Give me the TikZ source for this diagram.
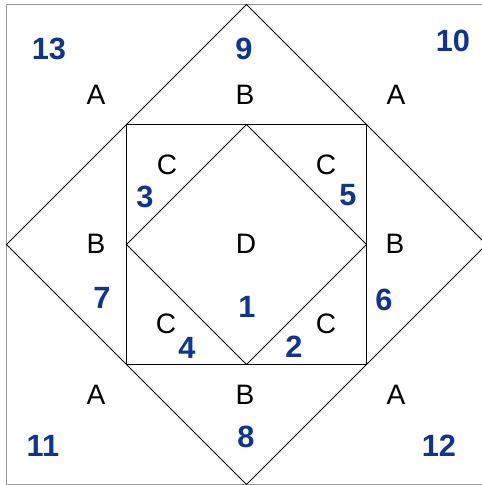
\documentclass[tikz,border=0pt]{standalone}
\usepackage{fontspec}
\setmainfont{Liberation Sans}
\definecolor{numblue}{RGB}{16,52,150}
\definecolor{framegray}{RGB}{150,150,150}
\tikzset{
  lbl/.style={font=\fontsize{16}{18}\selectfont, text=black, inner sep=0pt},
  num/.style={font=\fontsize{17.5}{20}\selectfont\bfseries, text=numblue, inner sep=0pt},
  thin line/.style={draw=black, line width=0.5pt},
  frame/.style={draw=framegray, line width=1.1pt}
}
\begin{document}
\begin{tikzpicture}[x=0.02cm, y=-0.02cm]
\useasboundingbox (0,0) rectangle (482,485);
\clip (0,0) rectangle (482,485);
% key points
\coordinate (c) at (246.5,244.5);
\coordinate (T) at (246.5,4.5);
\coordinate (Bt) at (246.5,484.5);
\coordinate (L) at (6.5,244.5);
\coordinate (R) at (486.5,244.5);
\coordinate (q1) at (126.5,124.5);
\coordinate (q2) at (366.5,124.5);
\coordinate (q3) at (366.5,364.5);
\coordinate (q4) at (126.5,364.5);
\coordinate (d1) at (246.5,124.5);
\coordinate (d2) at (366.5,244.5);
\coordinate (d3) at (246.5,364.5);
\coordinate (d4) at (126.5,244.5);
% outer frame
\draw[frame] (6.5,4.5) rectangle (486.5,484.5);
% big diamond
\draw[thin line] (T) -- (R) -- (Bt) -- (L) -- cycle;
% inner square
\draw[thin line] (q1) -- (q2) -- (q3) -- (q4) -- cycle;
% inner diamond
\draw[thin line] (d1) -- (d2) -- (d3) -- (d4) -- cycle;
% letters
\node[lbl] (a1) at (96,95) {A};
\node[lbl] (b1) at (245,95) {B};
\node[lbl] (a2) at (396,95) {A};
\node[lbl] (c1) at (167,165) {C};
\node[lbl] (c2) at (326,165) {C};
\node[lbl] (b2) at (96,244) {B};
\node[lbl] (dd) at (246,244) {D};
\node[lbl] (b3) at (395,244) {B};
\node[lbl] (c3) at (166,324) {C};
\node[lbl] (c4) at (326,324) {C};
\node[lbl] (a3) at (96,395) {A};
\node[lbl] (b4) at (245,395) {B};
\node[lbl] (a4) at (396,395) {A};
% numbers
\node[num] (n13) at (49,49) {13};
\node[num] (n9) at (244,49) {9};
\node[num] (n10) at (453,41) {10};
\node[num] (n3) at (145,197) {3};
\node[num] (n5) at (348,195) {5};
\node[num] (n7) at (102,298) {7};
\node[num] (n1) at (247,307) {1};
\node[num] (n6) at (384,300) {6};
\node[num] (n4) at (187,348) {4};
\node[num] (n2) at (294,347) {2};
\node[num] (n11) at (43,446) {11};
\node[num] (n8) at (246,437) {8};
\node[num] (n12) at (439,446) {12};
\end{tikzpicture}
\end{document}
